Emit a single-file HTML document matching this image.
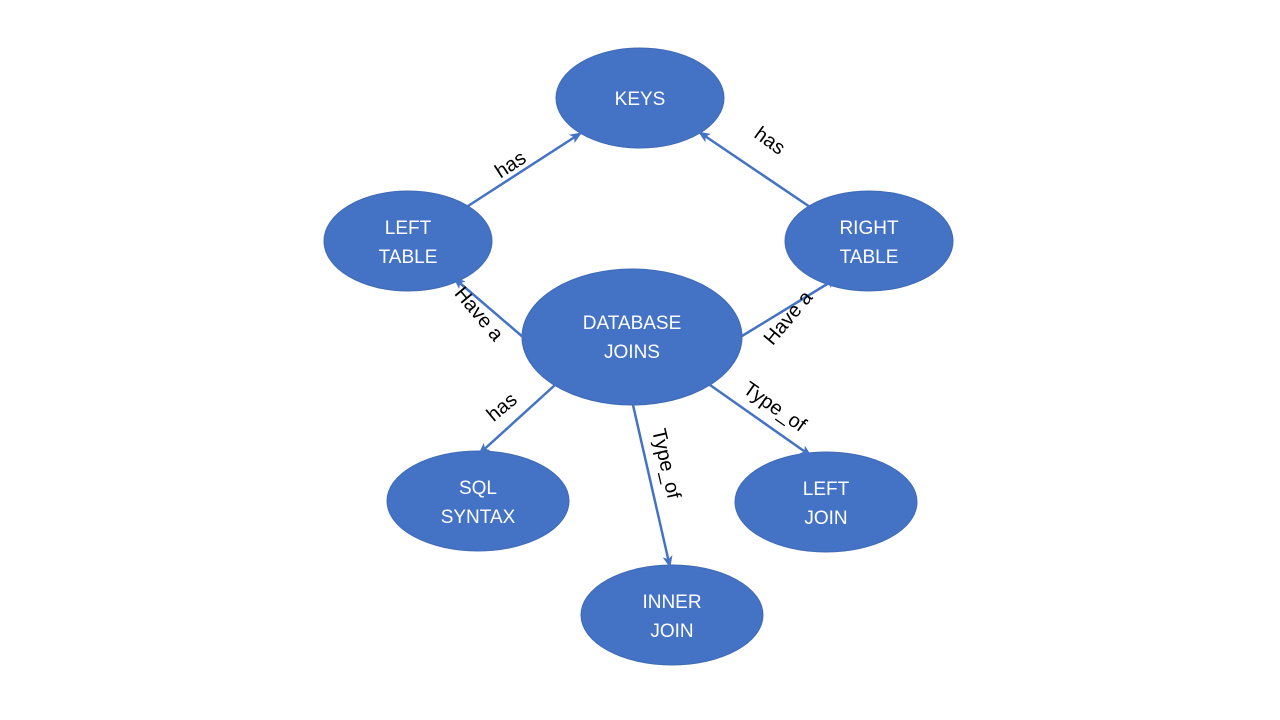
<!DOCTYPE html>
<html><head><meta charset="utf-8"><style>
html,body{margin:0;padding:0;background:#fff;}
svg{display:block;}
text{font-family:"Liberation Sans",sans-serif;}
.n{fill:#fff;font-size:19px;text-anchor:middle;}
.l{fill:#000;font-size:20px;text-anchor:middle;}
</style></head><body>
<svg width="1280" height="720" viewBox="0 0 1280 720" xmlns="http://www.w3.org/2000/svg">
<defs>
<marker id="a" markerWidth="14" markerHeight="14" refX="11" refY="7" orient="auto" markerUnits="userSpaceOnUse">
<path d="M0,2 L12,7 L0,12 L3,7 Z" fill="#4472C4"/>
</marker>
</defs>
<g fill="#4472C4" stroke="#3F6AB5" stroke-width="1">
<ellipse cx="640" cy="98" rx="84" ry="50"/>
<ellipse cx="408" cy="241" rx="84" ry="50"/>
<ellipse cx="869" cy="241" rx="84" ry="50"/>
<ellipse cx="632" cy="337" rx="110" ry="68"/>
<ellipse cx="478" cy="501" rx="91" ry="50"/>
<ellipse cx="826" cy="502" rx="91" ry="50"/>
<ellipse cx="672" cy="615" rx="91" ry="50"/>
</g>
<g stroke="#4472C4" stroke-width="2.5" fill="none" marker-end="url(#a)">
<line x1="468" y1="206" x2="581" y2="133"/>
<line x1="810" y1="207" x2="699" y2="132"/>
<line x1="524" y1="338" x2="454" y2="278"/>
<line x1="742" y1="336" x2="837" y2="278"/>
<line x1="555" y1="385" x2="479" y2="454"/>
<line x1="633" y1="405" x2="670" y2="567"/>
<line x1="710" y1="385" x2="811" y2="456"/>
</g>
<text class="n" x="640" y="105">KEYS</text>
<text class="n" x="408" y="234">LEFT</text><text class="n" x="408" y="263">TABLE</text>
<text class="n" x="869" y="234">RIGHT</text><text class="n" x="869" y="263">TABLE</text>
<text class="n" x="632" y="329">DATABASE</text><text class="n" x="632" y="358">JOINS</text>
<text class="n" x="478" y="494">SQL</text><text class="n" x="478" y="523">SYNTAX</text>
<text class="n" x="826" y="495">LEFT</text><text class="n" x="826" y="524">JOIN</text>
<text class="n" x="672" y="608">INNER</text><text class="n" x="672" y="637">JOIN</text>
<text class="l" transform="translate(514,170) rotate(-33)">has</text>
<text class="l" transform="translate(766,146) rotate(36)">has</text>
<text class="l" transform="translate(474,318) rotate(50)">Have a</text>
<text class="l" transform="translate(793,322) rotate(-50)">Have a</text>
<text class="l" transform="translate(506,412) rotate(-40)">has</text>
<text class="l" transform="translate(660,465) rotate(77)">Type_of</text>
<text class="l" transform="translate(771,412) rotate(35)">Type_of</text>
</svg>
</body></html>
